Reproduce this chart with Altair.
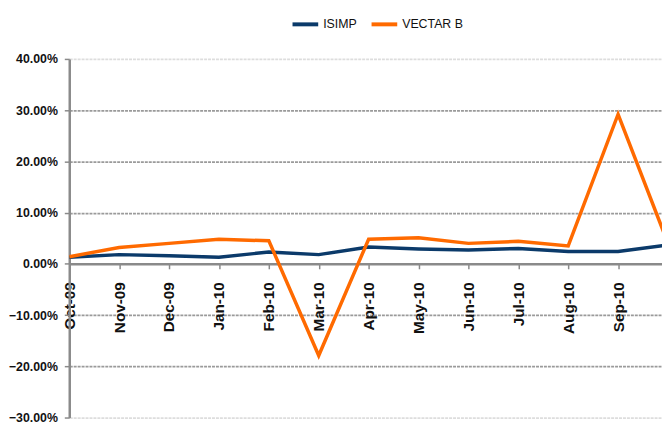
import altair as alt
import pandas as pd

months = ["Oct-09", "Nov-09", "Dec-09", "Jan-10", "Feb-10", "Mar-10", "Apr-10",
          "May-10", "Jun-10", "Jul-10", "Aug-10", "Sep-10", "Oct-10"]
isimp = [1.3, 1.8, 1.6, 1.3, 2.3, 1.8, 3.3, 2.9, 2.7, 3.0, 2.4, 2.4, 3.7]
vectar = [1.4, 3.2, 4.0, 4.8, 4.5, -17.9, 4.8, 5.1, 4.0, 4.4, 3.5, 29.2, 4.0]
series = ["ISIMP", "VECTAR B"]
colors = ["#0B3A6A", "#FF6A00"]
y_ticks = [-30, -20, -10, 0, 10, 20, 30, 40]

rows = []
for i, m in enumerate(months):
    rows.append({"idx": i, "month": m, "series": series[0], "value": isimp[i]})
    rows.append({"idx": i, "month": m, "series": series[1], "value": vectar[i]})
df = pd.DataFrame(rows)

label_arr = "[" + ",".join("'%s'" % m for m in months) + "]"

H = 363
zero_from_top = H * 40 / 70.0

chart = alt.Chart(df).mark_line(strokeWidth=3.5, clip=True).encode(
    x=alt.X("idx:Q",
            scale=alt.Scale(domain=[0, 11.88], nice=False, zero=False),
            axis=alt.Axis(values=list(range(12)), labelExpr=label_arr + "[datum.value]",
                          title=None, grid=False, offset=-(H - zero_from_top),
                          labelAngle=270, labelFont="Liberation Sans", labelFontWeight="bold",
                          labelFontSize=15.5, labelColor="#111", labelPadding=13,
                          domainColor="#8a8a8a", domainWidth=2.5, tickColor="#8a8a8a",
                          tickSize=5, tickWidth=1.5)),
    y=alt.Y("value:Q",
            scale=alt.Scale(domain=[-30, 40], nice=False),
            axis=alt.Axis(values=y_ticks, labelExpr="format(datum.value, '.2f') + '%'",
                          title=None, labelFont="Liberation Sans", labelFontWeight="bold",
                          labelFontSize=12.5, labelColor="#111", labelPadding=7,
                          domainColor="#8a8a8a", domainWidth=2.5, tickColor="#8a8a8a",
                          tickSize=5, tickWidth=1.5,
                          gridColor={"condition": {"test": "datum.value == 40 || datum.value == -30",
                                                   "value": "#dddddd"}, "value": "#9a9a9a"},
                          gridDash=[3, 1], gridWidth=1.8)),
    color=alt.Color("series:N", scale=alt.Scale(domain=series, range=colors),
                    legend=alt.Legend(orient="none", legendX=224, legendY=-50,
                                      direction="horizontal", title=None,
                                      symbolType="stroke", symbolStrokeWidth=4,
                                      symbolSize=676, labelFont="Liberation Sans",
                                      labelFontSize=12.5, labelColor="#111", columnPadding=6,
                                      labelOffset=3, padding=0)),
).properties(
    width=600, height=H,
    autosize=alt.AutoSizeParams(type="none"),
    padding={"left": 62, "top": 49, "right": 0, "bottom": 5},
).configure_view(stroke=None)

chart.save("out.html", embed_options={"renderer": "svg", "actions": False})
